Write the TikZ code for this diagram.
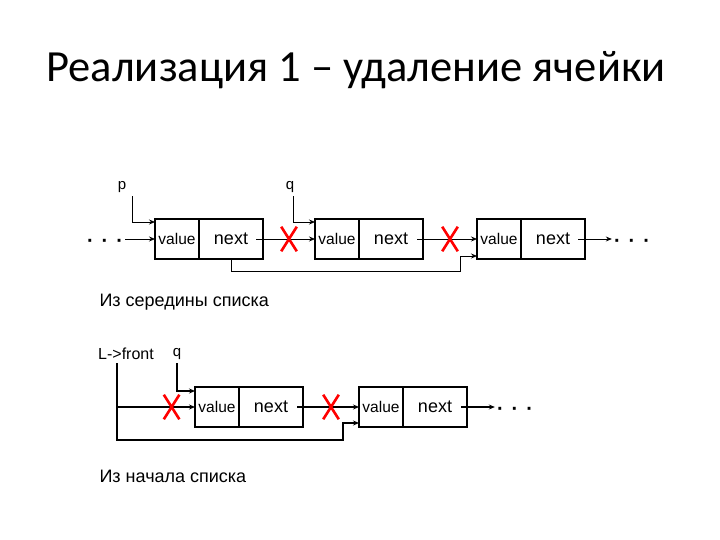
\documentclass[tikz,border=0pt]{standalone}
\usepackage{fontspec}
\setmainfont{Liberation Sans}
\newfontfamily\titlefont{Carlito}
\usetikzlibrary{
  positioning,
  arrows.meta,
  shapes.misc,
  calc
}

\newcommand{\threedots}{·\hspace{8pt}·\hspace{8pt}·}

\begin{document}
\begin{tikzpicture}[
    x=1pt, y=-1pt,
    every node/.style={font=\fontsize{15}{17}\selectfont},
    cell/.style={
        rectangle,
        draw=black,
        line width=1.2pt,
        outer sep=0pt,
        inner sep=0pt,
        minimum height=40pt
    },
    valcell/.style={
        cell,
        minimum width=44pt,
        font=\fontsize{15.5}{17}\selectfont
    },
    nextcell/.style={
        cell,
        minimum width=64pt,
        font=\fontsize{18}{20}\selectfont
    },
    ptr/.style={-{Stealth[length=6pt,width=5pt]}, line width=0.8pt},
    thickptr/.style={ptr, line width=1.4pt},
    cut/.style={
        cross out,
        draw=red,
        line width=2.6pt,
        inner sep=0pt,
        minimum width=13pt,
        minimum height=22pt
    },
    dotsnode/.style={font=\bfseries\fontsize{20}{20}\selectfont, inner sep=2pt}
]
\useasboundingbox (0,0) rectangle (720,540);

% Title
\node[font=\titlefont\fontsize{44.5}{50}\selectfont] (title) at (356,70) {Реализация 1 – удаление ячейки};

% Removal from the middle
\node[valcell] (v1) at (177,239) {value};
\node[nextcell, right=0pt of v1] (n1) {next};
\node[valcell, right=52pt of n1] (v2) {value};
\node[nextcell, right=0pt of v2] (n2) {next};
\node[valcell, right=54pt of n2] (v3) {value};
\node[nextcell, right=0pt of v3] (n3) {next};

\node[dotsnode] (dl) at (105,243) {\threedots};
\node[dotsnode] (dr) at (632,243) {\threedots};

\node (p) at (122,187) {p};
\node (q) at (290,187) {q};

\coordinate (b1) at (460,271);

\draw[ptr] (dl.east |- v1.west) -- (v1.west);
\draw[ptr] ([xshift=10pt]p.south) |- ([yshift=-3pt]v1.north west);
\draw[ptr] ([xshift=3pt]q.south) |- ([yshift=-3pt]v2.north west);
\draw[ptr] ([xshift=-7pt]n1.east) -- (v2.west);
\draw[ptr] ([xshift=-6pt]n2.east) -- (v3.west);
\draw[ptr] ([xshift=-7pt]n3.east) -- (dr.west |- n3.east);
\draw[ptr] (n1.south) |- (b1) |- ([yshift=3pt]v3.south west);

\node[cut] (x1) at ($(n1.east)!0.5!(v2.west)$) {};
\node[cut] (x2) at ($(n2.east)!0.5!(v3.west)$) {};

\node[anchor=west, font=\fontsize{18}{20}\selectfont] (mid) at (96,302) {Из середины списка};

% Removal from the front
\node[valcell] (va) at (217,407) {value};
\node[nextcell, right=0pt of va] (na) {next};
\node[valcell, right=56pt of na] (vb) {value};
\node[nextcell, right=0pt of vb] (nb) {next};

\node[dotsnode] (db) at (515,411) {\threedots};

\node[font=\fontsize{16}{18}\selectfont] (front) at (126,354) {L->front};
\node (q2) at (177,354) {q};

\coordinate (lf) at ([xshift=-9pt]front.south);
\coordinate (b2) at (343,440);

\draw[thickptr] (lf) |- (b2) |- ([yshift=4pt]vb.south west);
\draw[thickptr] (lf |- va.west) -- (va.west);
\draw[thickptr] (q2.south) |- ([yshift=-4pt]va.north west);
\draw[thickptr] ([xshift=-6pt]na.east) -- (vb.west);
\draw[thickptr] ([xshift=-6pt]nb.east) -- (db.west |- nb.east);

\node[cut] (x3) at ($(lf |- va.west)!0.7!(va.west)$) {};
\node[cut] (x4) at ($(na.east)!0.5!(vb.west)$) {};

\node[anchor=west, font=\fontsize{18}{20}\selectfont] (front2) at (96,476) {Из начала списка};

\end{tikzpicture}
\end{document}
